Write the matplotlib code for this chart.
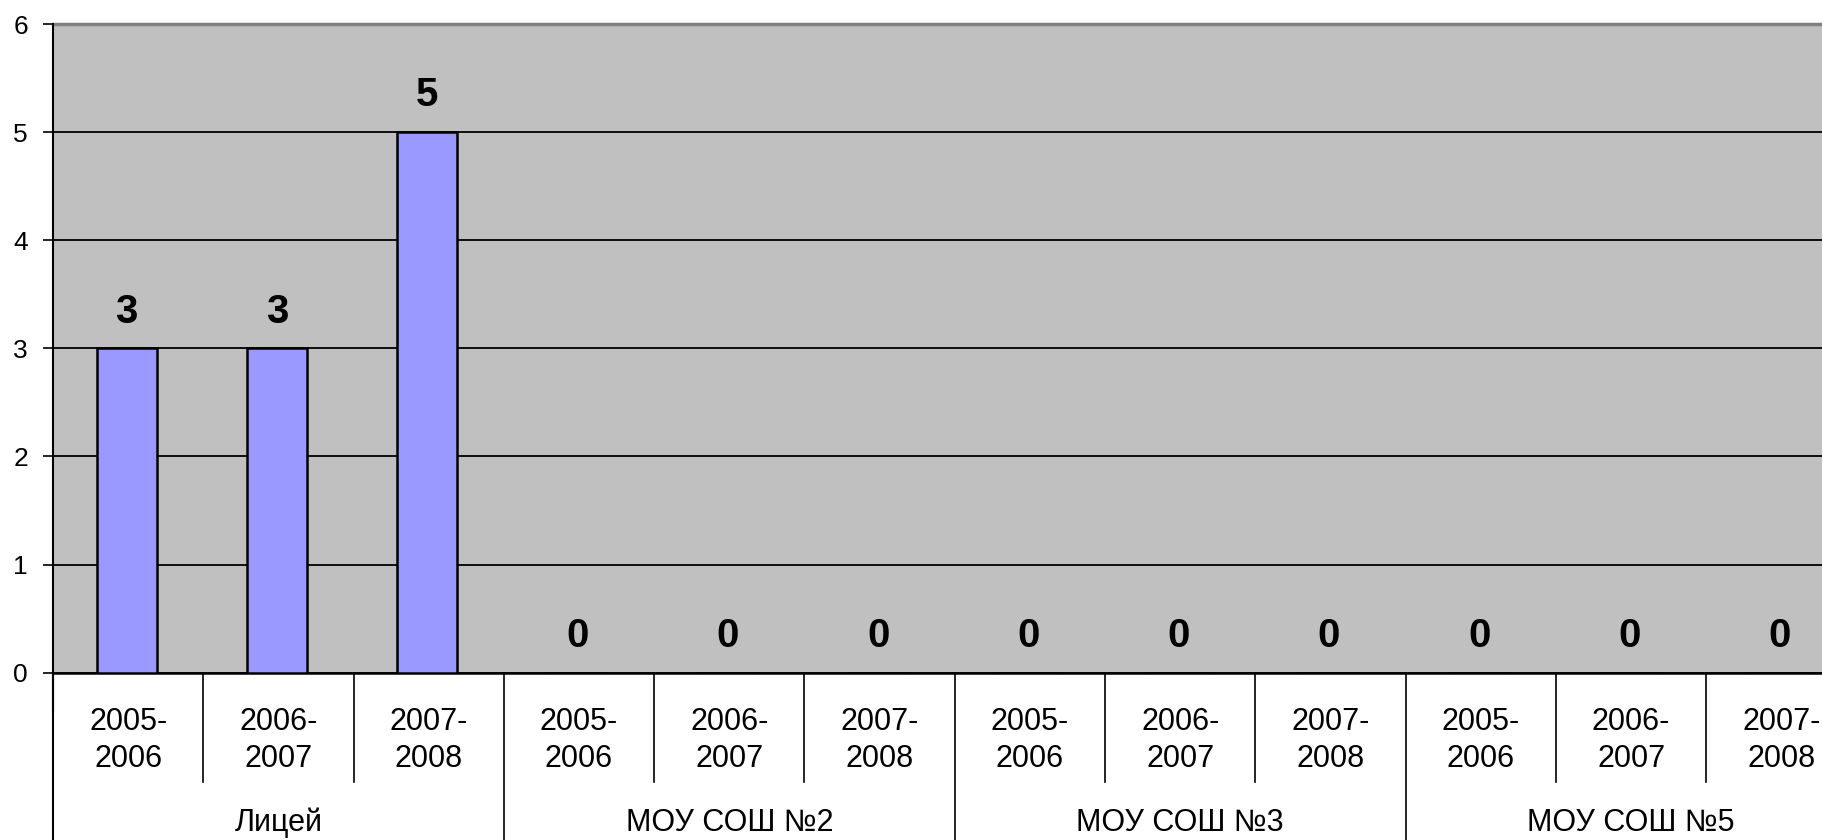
import numpy as np
import matplotlib
matplotlib.use("Agg")
from matplotlib import pyplot as plt
import matplotlib.transforms as mtransforms

plt.rcParams["font.family"] = ["Liberation Sans", "DejaVu Sans"]

# данные
schools = ["Лицей", "МОУ СОШ №2", "МОУ СОШ №3", "МОУ СОШ №5"]
years = ["2005-\n2006", "2006-\n2007", "2007-\n2008"]
values = [3, 3, 5, 0, 0, 0, 0, 0, 0, 0, 0, 0]

fig = plt.figure(figsize=(18.22, 8.40), dpi=100)
# область графика обрезана справа, как в оригинале
ax = fig.add_axes([53 / 1822, 1 - 672.7 / 840, 12 * 150.3 / 1822, 648.7 / 840])
ax.set_facecolor("#C0C0C0")

x = np.arange(len(values))
ax.bar(x - 0.01, values, width=0.4, color="#9999FF", edgecolor="black", linewidth=1.8, zorder=3)

for xi, v in zip(x, values):
    ax.annotate(str(v), (xi - 0.01, v), xytext=(0, 18.5), textcoords="offset points",
                ha="center", va="baseline", fontsize=29, fontweight="bold")

ax.set_xlim(-0.5, len(values) - 0.5)
ax.set_ylim(0, 6)
ax.set_yticks(range(7))
ax.tick_params(axis="y", labelsize=19, length=7, width=1.2, pad=11, color="black")
ax.yaxis.grid(True, color="black", linewidth=1.3, zorder=1)
ax.set_axisbelow(True)

ax.spines["right"].set_visible(False)
ax.spines["top"].set_color("#808080")
ax.spines["top"].set_linewidth(2.5)
ax.spines["bottom"].set_linewidth(1.8)
ax.spines["left"].set_linewidth(1.5)
ax.spines["left"].set_bounds(-0.35, 6)
ax.spines["left"].set_zorder(5)

# подписи категорий (два уровня)
ax.set_xticks([])
trans = mtransforms.blended_transform_factory(ax.transData, ax.transAxes)
n_y = len(years)
for i in range(len(values)):
    ax.text(i, -0.105, years[i % n_y], transform=trans, ha="center", va="center",
            fontsize=22, linespacing=1.3, clip_on=False)
for g, name in enumerate(schools):
    ax.text(g * n_y + (n_y - 1) / 2, -0.2317, name, transform=trans, ha="center",
            va="center", fontsize=22, clip_on=False)

# разделители
for i in range(1, len(values) + 1):
    b = i - 0.5
    if i % n_y == 0:
        y0 = -0.35
    else:
        y0 = -0.1686
    ax.plot([b, b], [0, y0], transform=trans, color="black", linewidth=1.2,
            clip_on=False)
ax.plot([-0.5, -0.5], [0, -0.35], transform=trans, color="black", linewidth=1.5,
        clip_on=False)

fig.savefig("out.png", dpi=100)
